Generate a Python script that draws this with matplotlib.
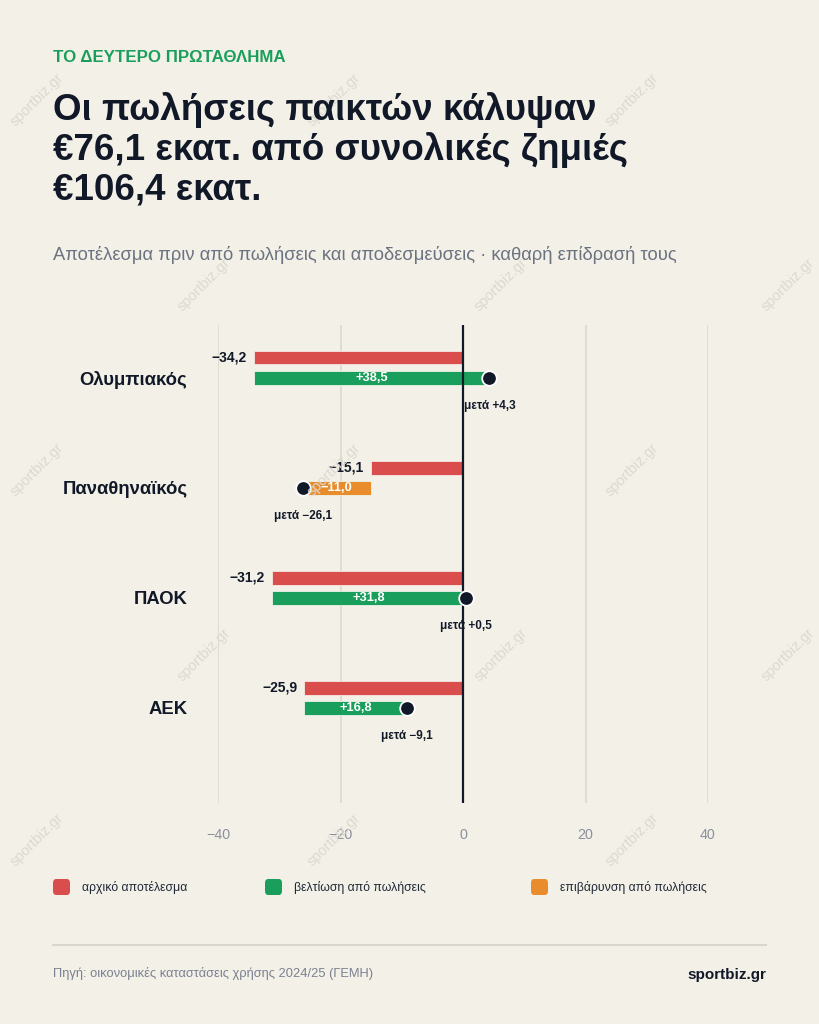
import matplotlib
matplotlib.use("Agg")
import matplotlib.pyplot as plt
from matplotlib.patches import FancyBboxPatch
from matplotlib.lines import Line2D

plt.rcParams['font.family'] = ['Liberation Sans', 'DejaVu Sans']

# ---------------- data ----------------
teams = ["Ολυμπιακός", "Παναθηναϊκός", "ΠΑΟΚ", "ΑΕΚ"]
initial = [-34.2, -15.1, -31.2, -25.9]
delta = [38.5, -11.0, 31.8, 16.8]
after = [4.3, -26.1, 0.5, -9.1]
xticks = [-40, -20, 0, 20, 40]
legend_labels = ["αρχικό αποτέλεσμα", "βελτίωση από πωλήσεις", "επιβάρυνση από πωλήσεις"]

kicker = "ΤΟ ΔΕΥΤΕΡΟ ΠΡΩΤΑΘΛΗΜΑ"
title = "Οι πωλήσεις παικτών κάλυψαν\n€76,1 εκατ. από συνολικές ζημιές\n€106,4 εκατ."
subtitle = "Αποτέλεσμα πριν από πωλήσεις και αποδεσμεύσεις · καθαρή επίδρασή τους"
source = "Πηγή: οικονομικές καταστάσεις χρήσης 2024/25 (ΓΕΜΗ)"
brand = "sportbiz.gr"

# ---------------- style ----------------
BG = "#F3F0E8"
RED = "#D94D4D"
GREEN = "#1A9E5B"
ORANGE = "#E88C2C"
DARK = "#111827"
GREY = "#6B7280"
GRID = "#DCD8CC"

W, H = 819, 1024


def fx(x):
    return x / W


def fy(y):
    return 1 - y / H


def fmt(v, plus=True):
    s = f"{abs(v):.1f}".replace(".", ",")
    if v < 0:
        return "\u2212" + s
    return ("+" if plus else "") + s


def fmt_tick(v):
    return ("\u2212" if v < 0 else "") + f"{abs(v):d}"


fig = plt.figure(figsize=(W / 100, H / 100), dpi=100, facecolor=BG)

# watermark
for r, yy in enumerate(range(100, 900, 185)):
    xs = [37, 334, 632] if r % 2 == 0 else [204, 501, 788]
    for xx in xs:
        fig.text(fx(xx), fy(yy), "sportbiz.gr", rotation=45, ha="center", va="center",
                 fontsize=10.5, color="#DCD9D0", zorder=0)

# header
fig.text(fx(53), fy(58), kicker, fontsize=12.2, fontweight="bold", color=GREEN,
         ha="left", va="center")
fig.text(fx(53), fy(92), title, fontsize=26.5, fontweight="bold", color=DARK,
         ha="left", va="top", linespacing=1.16)
fig.text(fx(53), fy(255), subtitle, fontsize=13.2, color=GREY, ha="left", va="center")

# axes
ax = fig.add_axes([fx(218), fy(803), (708 - 218) / W, (803 - 325) / H])
ax.set_facecolor("none")
ax.patch.set_visible(False)
for s in ax.spines.values():
    s.set_visible(False)

ax.set_xlim(-40, 40)
ax.set_ylim(3.955, -0.39)

for t in xticks:
    if t == 0:
        ax.axvline(0, color=DARK, lw=1.6, zorder=3)
    else:
        ax.axvline(t, color=GRID, lw=1.2, zorder=0)

ax.set_xticks(xticks)
ax.set_xticklabels([fmt_tick(t) for t in xticks])
ax.tick_params(axis="x", length=0, pad=18, labelsize=10.3, labelcolor="#8B909C")

off = 0.091
bh = 0.12
ypos = list(range(len(teams)))
ax.set_yticks([y + off for y in ypos])
ax.set_yticklabels(teams)
ax.tick_params(axis="y", length=0, pad=22, labelsize=13.3)
for lab in ax.get_yticklabels():
    lab.set_fontweight("bold")
    lab.set_color(DARK)

for i, y in enumerate(ypos):
    # initial result
    ax.barh(y - off, initial[i], left=0, height=bh, color=RED, edgecolor="#F6E9E4",
            linewidth=0.6, zorder=2)
    ax.annotate(fmt(initial[i]), (initial[i], y - off), xytext=(-5, 0),
                textcoords="offset points", ha="right", va="center",
                fontsize=10, fontweight="bold", color=DARK)
    # effect of sales
    col = GREEN if delta[i] >= 0 else ORANGE
    ax.barh(y + off, delta[i], left=initial[i], height=bh, color=col,
            edgecolor="#EEF3EA", linewidth=0.6, zorder=2)
    ax.text(initial[i] + delta[i] / 2, y + off, fmt(delta[i]), ha="center", va="center",
            fontsize=9.3, fontweight="bold", color="white", zorder=4)
    # after marker
    ax.plot(after[i], y + off, "o", ms=10.5, mfc=DARK, mec="white", mew=1.3, zorder=5)
    ax.annotate("μετά " + fmt(after[i]), (after[i], y + off), xytext=(0, -20),
                textcoords="offset points", ha="center", va="center",
                fontsize=8.5, fontweight="bold", color=DARK, zorder=4)

# legend
leg_x = [53, 265, 531]
leg_c = [RED, GREEN, ORANGE]
for lx, lc, ll in zip(leg_x, leg_c, legend_labels):
    p = FancyBboxPatch((fx(lx), fy(895)), 17 / W, 16 / H,
                       boxstyle="round,pad=0,rounding_size=0.004",
                       transform=fig.transFigure, facecolor=lc, edgecolor="none")
    fig.add_artist(p)
    fig.text(fx(lx + 29), fy(887), ll, fontsize=8.8, color="#1F2937", ha="left", va="center")

# footer
fig.add_artist(Line2D([fx(53), fx(766)], [fy(945), fy(945)], color="#DAD6CB", lw=1.5,
                      transform=fig.transFigure))
fig.text(fx(53), fy(973), source, fontsize=9.3, color="#7B8190", ha="left", va="center")
fig.text(fx(766), fy(975), brand, fontsize=11, fontweight="bold", color=DARK,
         ha="right", va="center")

fig.savefig("out.png", dpi=100, facecolor=BG)
